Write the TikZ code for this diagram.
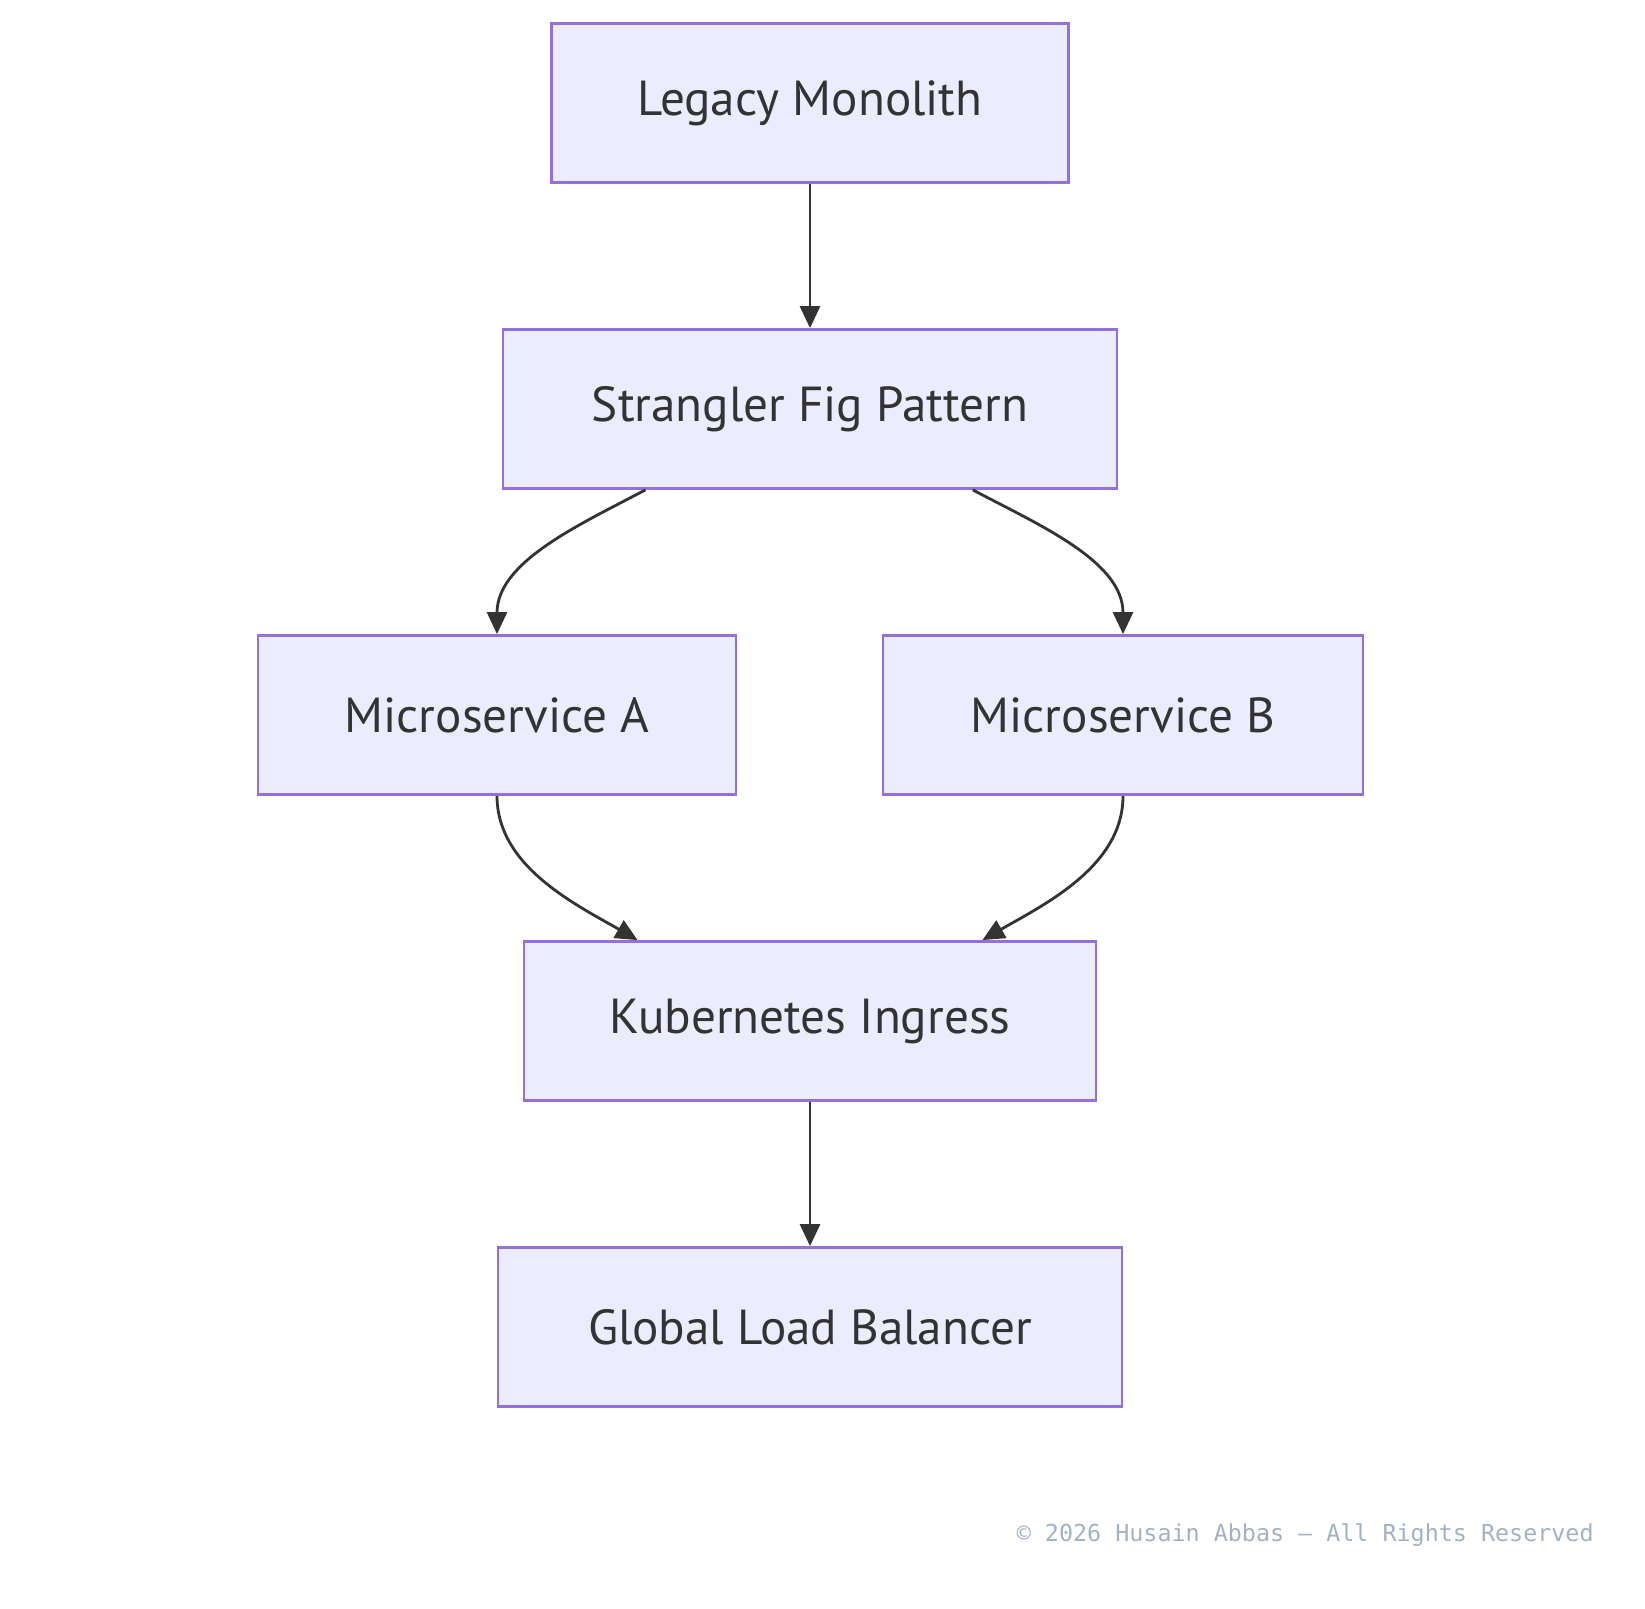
\documentclass[tikz,border=0pt]{standalone}
\usepackage{fontspec}
\setmainfont{PT Sans}
\newfontfamily\footfont{DejaVu Sans Mono}
\usetikzlibrary{arrows.meta,positioning,calc}
\definecolor{boxfill}{HTML}{ECECFF}
\definecolor{boxline}{HTML}{9370DB}
\definecolor{linkgray}{HTML}{333333}
\definecolor{footgray}{HTML}{A3B1C6}
\tikzset{
  svcbox/.style={draw=boxline,fill=boxfill,line width=1.6pt,minimum height=3.18cm,
    align=center,inner sep=0pt,text=linkgray,font=\fontsize{28}{34}\selectfont},
  flow/.style={-{Triangle[length=4.4mm,width=4mm]},line width=1.6pt,draw=linkgray},
  footnote/.style={font=\footfont\fontsize{13.3}{16}\selectfont,text=footgray,anchor=east,inner sep=0pt}
}
\begin{document}
\begin{tikzpicture}[x=0.02cm,y=-0.02cm]
  \useasboundingbox (0,0) rectangle (1645,1608);
  \node[svcbox,minimum width=10.34cm] (legacy) at (810,103) {Legacy Monolith};
  \node[svcbox,minimum width=12.28cm] (strangler) at (810,409) {Strangler Fig Pattern};
  \node[svcbox,minimum width=9.56cm] (msa) at (497,715) {Microservice A};
  \node[svcbox,minimum width=9.6cm] (msb) at (1123,715) {Microservice B};
  \node[svcbox,minimum width=11.44cm] (ingress) at (810,1021) {Kubernetes Ingress};
  \node[svcbox,minimum width=12.48cm] (glb) at (810,1327) {Global Load Balancer};
  \node[footnote] (copy) at (1594,1535) {© 2026 Husain Abbas – All Rights Reserved};

  \draw[flow] (legacy) -- (strangler);
  \draw[flow] ($(strangler.south west)!0.233!(strangler.south east)$) to[out=-152,in=90,looseness=0.9] (msa.north);
  \draw[flow] ($(strangler.south west)!0.764!(strangler.south east)$) to[out=-28,in=90,looseness=0.9] (msb.north);
  \draw[flow] (msa.south) to[out=-90,in=150,looseness=0.9] ($(ingress.north west)!0.2!(ingress.north east)$);
  \draw[flow] (msb.south) to[out=-90,in=30,looseness=0.9] ($(ingress.north west)!0.8!(ingress.north east)$);
  \draw[flow] (ingress) -- (glb);
\end{tikzpicture}
\end{document}
